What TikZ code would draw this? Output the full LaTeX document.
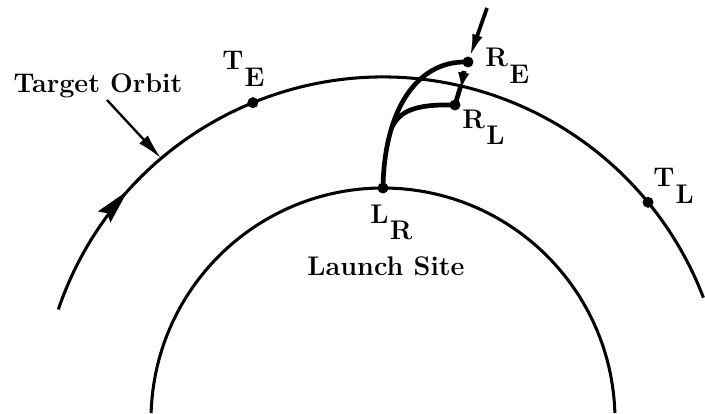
\documentclass[tikz,border=0pt]{standalone}
\usetikzlibrary{arrows.meta,calc,decorations.markings}
\tikzset{
  orbit/.style={line width=1.3pt},
  traj/.style={line width=2pt},
  lbl/.style={font=\fontsize{11.5}{13}\selectfont\bfseries, inner sep=0pt},
}
\newcommand{\sublbl}[2]{#1\kern0.5pt\raisebox{-7pt}{#2}}

\begin{document}
\begin{tikzpicture}[x=0.015cm,y=0.015cm]
\useasboundingbox (0,0) rectangle (705,413);
\coordinate (C) at (383,-7);
% target orbit and launch body
\draw[orbit,postaction={decorate},decoration={markings,
  mark=at position 0.165 with {\arrow{Stealth[length=15pt,width=7pt,inset=2pt]}}}]
  (C) ++(161.2:343) arc [start angle=161.2, end angle=20.9, radius=343];
\draw[orbit] (C) ++(178.3:232) arc [start angle=178.3, end angle=1.7, radius=232];
% points
\coordinate (TE) at ($(C)+(112.3:343)$);
\coordinate (TL) at ($(C)+(39.4:343)$);
\coordinate (TO) at ($(C)+(130.3:343)$);
\coordinate (LR) at (383,225);
\coordinate (RE) at (468,351);
\coordinate (RL) at (455,308);
\coordinate (BR) at (392,286);
\coordinate (inc) at (487,405);
\coordinate (cross) at (464,342);
\coordinate (tail) at (107,313);
% trajectories
\draw[traj] (LR) .. controls (384,300) and (415,353) .. (RE);
\draw[traj] (BR) .. controls (400,302) and (415,309) .. (RL);
\draw[line width=1.6pt,-{Latex[length=10pt,width=4.5pt]},shorten >=2pt] (inc) -- (RE);
\draw[line width=2pt,-{Latex[length=7pt,width=5pt]}] (cross) -- (461,324);
\draw[line width=2pt] (461,328) -- (RL);
\foreach \p in {TE,TL,RE,RL,LR}
  \fill (\p) circle (5.5);
% labels
\node[lbl, anchor=base] (target) at (98,320) {Target Orbit};
\draw[line width=1pt,-{Latex[length=11pt,width=5pt]}] (tail) -- (TO);
\node[lbl, anchor=base west] (lTE) at (222,343) {\sublbl{T}{E}};
\node[lbl, anchor=base west] (lRE) at (485,346) {\sublbl{R}{E}};
\node[lbl, anchor=base west] (lRL) at (462,285) {\sublbl{R}{L}};
\node[lbl, anchor=base west] (lTL) at (653,226) {\sublbl{T}{L}};
\node[lbl, anchor=base west] (lLR) at (370,190) {\sublbl{L}{R}};
\node[lbl, anchor=base] (site) at (386,138) {Launch Site};
\end{tikzpicture}
\end{document}
